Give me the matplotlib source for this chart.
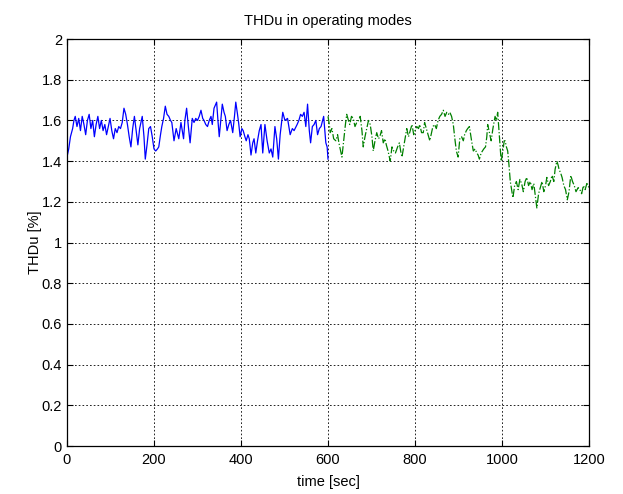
import matplotlib
matplotlib.use('Agg')
import matplotlib.pyplot as plt

# Tiempos (s) y THDu (%) del primer modo de operación
t_modo1 = [0, 4, 8, 13, 16, 19, 23, 27, 31, 35, 39, 43, 47, 51, 55, 59, 63, 67, 71, 75,
           79, 83, 87, 91, 95, 99, 103, 107, 111, 115, 119, 123, 127, 131, 135, 139, 143, 147,
           151, 155, 159, 163, 167, 173, 177, 180, 184, 188, 192, 196, 200, 204, 208, 211, 215,
           218, 222, 226, 230, 234, 238, 241, 246, 251, 257, 262, 268, 271, 275, 279, 283, 288,
           292, 296, 300, 304, 308, 312, 315, 319, 323, 327, 331, 334, 338, 344, 347, 350, 354,
           357, 361, 364, 368, 372, 376, 381, 385, 388, 392, 395, 398, 402, 405, 409, 412, 416,
           419, 423, 427, 430, 434, 438, 442, 446, 450, 455, 460, 465, 469, 473, 478, 482, 486,
           490, 496, 501, 507, 513, 518, 522, 529, 533, 537, 541, 545, 549, 553, 557, 560, 564,
           568, 572, 576, 580, 584, 590, 595, 598, 600]
thd_modo1 = [1.42, 1.46, 1.52, 1.56, 1.60, 1.62, 1.57, 1.61, 1.55, 1.62, 1.58, 1.53, 1.60, 1.63,
             1.56, 1.60, 1.52, 1.58, 1.62, 1.56, 1.60, 1.55, 1.58, 1.53, 1.57, 1.61, 1.55, 1.51,
             1.56, 1.54, 1.57, 1.56, 1.59, 1.66, 1.63, 1.58, 1.52, 1.47, 1.56, 1.62, 1.55, 1.48,
             1.56, 1.62, 1.52, 1.41, 1.48, 1.56, 1.57, 1.52, 1.46, 1.45, 1.46, 1.47, 1.53, 1.57,
             1.61, 1.67, 1.63, 1.62, 1.60, 1.59, 1.50, 1.56, 1.51, 1.59, 1.51, 1.60, 1.66, 1.57,
             1.49, 1.61, 1.59, 1.61, 1.60, 1.62, 1.65, 1.61, 1.60, 1.58, 1.57, 1.60, 1.62, 1.58,
             1.66, 1.69, 1.60, 1.52, 1.61, 1.68, 1.64, 1.62, 1.55, 1.58, 1.60, 1.54, 1.62, 1.69,
             1.63, 1.58, 1.52, 1.56, 1.55, 1.52, 1.50, 1.53, 1.51, 1.43, 1.49, 1.51, 1.44, 1.50,
             1.55, 1.58, 1.44, 1.58, 1.50, 1.44, 1.46, 1.42, 1.57, 1.51, 1.41, 1.53, 1.64, 1.60,
             1.61, 1.53, 1.56, 1.55, 1.58, 1.60, 1.63, 1.62, 1.64, 1.57, 1.68, 1.55, 1.49, 1.57,
             1.58, 1.60, 1.53, 1.56, 1.57, 1.62, 1.49, 1.47, 1.41]

# Segundo modo de operación
t_modo2 = [600, 603, 605, 609, 613, 618, 622, 625, 629, 632, 636, 640, 643, 647, 650, 654, 658,
           662, 666, 670, 674, 678, 681, 685, 689, 693, 697, 701, 704, 708, 712, 716, 719, 723,
           727, 731, 734, 738, 743, 747, 751, 755, 760, 764, 767, 770, 774, 778, 781, 785, 789,
           793, 797, 800, 804, 808, 811, 815, 819, 822, 826, 830, 834, 838, 841, 845, 849, 853,
           857, 861, 865, 869, 873, 877, 880, 884, 888, 891, 895, 899, 903, 907, 911, 914, 918,
           921, 925, 930, 934, 938, 942, 945, 948, 952, 955, 958, 962, 965, 967, 971, 975, 979,
           984, 987, 990, 994, 998, 1002, 1005, 1007, 1010, 1013, 1016, 1019, 1022, 1025, 1029,
           1033, 1037, 1041, 1045, 1049, 1053, 1057, 1061, 1065, 1069, 1073, 1077, 1080, 1084,
           1088, 1092, 1096, 1100, 1103, 1107, 1111, 1115, 1119, 1122, 1126, 1129, 1131, 1135,
           1138, 1142, 1146, 1150, 1154, 1158, 1162, 1166, 1170, 1175, 1179, 1183, 1187, 1191,
           1195, 1200]
thd_modo2 = [1.62, 1.58, 1.54, 1.56, 1.51, 1.50, 1.53, 1.49, 1.45, 1.42, 1.50, 1.58, 1.63, 1.60,
             1.58, 1.62, 1.61, 1.57, 1.59, 1.60, 1.62, 1.55, 1.47, 1.52, 1.56, 1.60, 1.58, 1.52,
             1.45, 1.50, 1.54, 1.51, 1.52, 1.55, 1.49, 1.51, 1.48, 1.45, 1.40, 1.47, 1.45, 1.44,
             1.47, 1.49, 1.45, 1.42, 1.47, 1.52, 1.56, 1.52, 1.55, 1.58, 1.53, 1.55, 1.57, 1.56,
             1.58, 1.54, 1.54, 1.59, 1.56, 1.53, 1.50, 1.54, 1.57, 1.58, 1.56, 1.60, 1.62, 1.63,
             1.65, 1.62, 1.64, 1.63, 1.64, 1.62, 1.58, 1.52, 1.45, 1.42, 1.51, 1.52, 1.50, 1.53,
             1.55, 1.56, 1.57, 1.50, 1.45, 1.46, 1.44, 1.43, 1.41, 1.44, 1.45, 1.46, 1.47, 1.52,
             1.58, 1.54, 1.50, 1.56, 1.62, 1.60, 1.64, 1.52, 1.40, 1.45, 1.50, 1.50, 1.47, 1.45,
             1.38, 1.30, 1.26, 1.22, 1.28, 1.30, 1.26, 1.31, 1.29, 1.25, 1.30, 1.32, 1.28, 1.30,
             1.26, 1.29, 1.22, 1.17, 1.24, 1.27, 1.30, 1.25, 1.28, 1.32, 1.28, 1.30, 1.33, 1.30,
             1.36, 1.40, 1.38, 1.36, 1.34, 1.32, 1.28, 1.26, 1.21, 1.25, 1.33, 1.30, 1.28, 1.25,
             1.27, 1.26, 1.24, 1.28, 1.26, 1.29, 1.27]

xticks = [0, 200, 400, 600, 800, 1000, 1200]
yticks = [0, 0.2, 0.4, 0.6, 0.8, 1, 1.2, 1.4, 1.6, 1.8, 2]
ytick_labels = ['0', '0.2', '0.4', '0.6', '0.8', '1', '1.2', '1.4', '1.6', '1.8', '2']

plt.rcParams['font.family'] = ['Liberation Sans', 'DejaVu Sans']

fig = plt.figure(figsize=(6.23, 4.94), dpi=100)
ax = fig.add_axes([0.1075, 0.097, 0.838, 0.824])

ax.plot(t_modo1, thd_modo1, color='#0000ff', linewidth=0.9, linestyle='-')
ax.plot(t_modo2, thd_modo2, color='#008000', linewidth=0.9, linestyle='-.')

ax.set_xlim(0, 1200)
ax.set_ylim(0, 2)
ax.set_xticks(xticks)
ax.set_yticks(yticks)
ax.set_yticklabels(ytick_labels)
ax.tick_params(direction='in', top=True, right=True, length=4, labelsize=10.5, colors='black')
ax.tick_params(axis='x', pad=5)

ax.grid(True, color='black', linestyle=(0, (2, 2.5)), linewidth=0.6)
ax.set_axisbelow(True)
for s in ax.spines.values():
    s.set_linewidth(0.9)

ax.set_title('THDu in operating modes', fontsize=10.5, pad=10)
ax.set_xlabel('time [sec]', fontsize=10.5, labelpad=6)
ax.set_ylabel('THDu [%]', fontsize=10.5, labelpad=0)

fig.savefig('out.png', dpi=100, facecolor='white')
